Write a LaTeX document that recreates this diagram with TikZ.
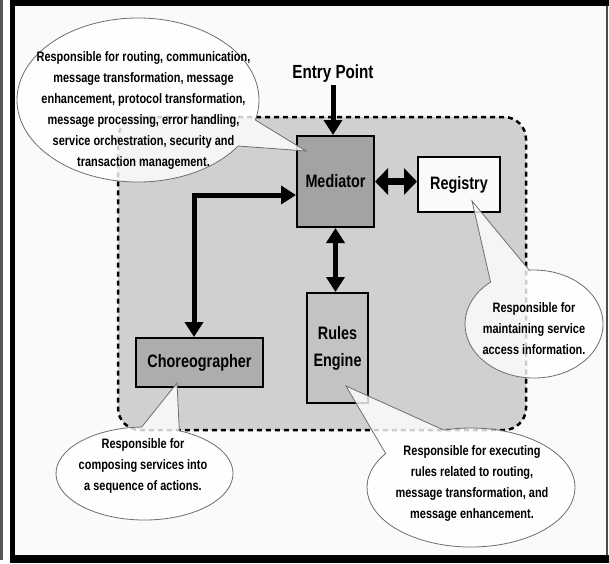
\documentclass[tikz,border=0pt]{standalone}
\usepackage{fontspec}
\newfontfamily\narrowsans{Liberation Sans}[FakeStretch=0.8]
\usetikzlibrary{shapes.callouts,arrows.meta,calc}

\definecolor{pagebg}{HTML}{FAFAFA}
\definecolor{regionfill}{HTML}{D0D0D0}
\definecolor{medfill}{HTML}{A3A3A3}
\definecolor{chorfill}{HTML}{ADADAD}
\definecolor{rulesfill}{HTML}{C3C3C3}
\definecolor{regfill}{HTML}{FAFAFA}
\definecolor{bubbleline}{HTML}{6E6E6E}

\begin{document}
\begin{tikzpicture}[x=1pt,y=-1pt,
  box/.style={draw=black, line width=2pt, inner sep=0pt,
    font=\narrowsans\bfseries\fontsize{18}{27}\selectfont, align=center},
  flow/.style={line width=5pt, -{Triangle[length=15pt,width=18pt]}},
  twoway/.style={line width=5pt,
    {Triangle[length=15pt,width=18pt]}-{Triangle[length=15pt,width=18pt]}},
  bubble/.style={ellipse callout, draw=bubbleline, line width=0.8pt,
    fill=white, fill opacity=0.8, draw opacity=1, inner sep=0pt},
  note/.style={font=\narrowsans\bfseries\fontsize{13.7}{21}\selectfont,
    align=center, inner sep=0pt},
]
\useasboundingbox (0,0) rectangle (609,563);

% page frame
\fill[pagebg] (14,6) rectangle (606,555);
\fill[black!65] (0,0) rectangle (3,560);
\fill[black] (10,0) rectangle (609,6);
\fill[black] (10,0) rectangle (14.5,563);
\fill[black] (10,555) rectangle (609,563);
\fill[black!70] (606,6) rectangle (608,555);

% service bus region
\node[draw=black, fill=regionfill, line width=2.5pt,
      dash pattern=on 5pt off 4pt, rounded corners=22pt,
      minimum width=408pt, minimum height=313pt, inner sep=0pt]
      (bus) at (322,273.5) {};

% components
\node[box, fill=medfill, minimum width=77pt, minimum height=91pt]
  (med) at (335.5,181.5) {Mediator};
\node[box, fill=regfill, minimum width=82pt, minimum height=55pt]
  (reg) at (459,184.5) {Registry};
\node[box, fill=rulesfill, minimum width=61pt, minimum height=110pt]
  (rules) at (337.5,348) {Rules\\Engine};
\node[box, fill=chorfill, minimum width=127pt, minimum height=49pt]
  (chor) at (199.5,362.5) {Choreographer};

\node[font=\narrowsans\bfseries\fontsize{19}{22}\selectfont, inner sep=0pt]
  (entry) at (333,74) {Entry Point};

% connectors
\draw[flow] ($(entry.south)+(0,2)$) -- (entry.south |- med.north);
\draw[twoway, line width=7pt,
  {Triangle[length=13pt,width=26pt]}-{Triangle[length=13pt,width=26pt]}]
  (med.east) -- (reg.west |- med.east);
\draw[twoway] (med.south) -- (med.south |- rules.north);
\coordinate (elbow) at (194,195);
\draw[twoway] (chor.north -| elbow) -- (elbow) -- (med.west |- elbow);

% callouts
\node[bubble, minimum width=242pt, minimum height=164pt,
  callout absolute pointer={($(med.north west)+(10,16)$)},
  callout pointer arc=20] (medbubble) at (138,100) {};
\node[note] (mednote) at (143.5,110)
  {Responsible for routing, communication,\\
   message transformation, message\\
   enhancement, protocol transformation,\\
   message processing, error handling,\\
   service orchestration, security and\\
   transaction management.};

\node[bubble, minimum width=138pt, minimum height=108pt,
  callout absolute pointer={($(reg.south west)+(55,-12)$)},
  callout pointer arc=35] (regbubble) at (534,324) {};
\node[note] (regnote) at (534,328.5)
  {Responsible for\\maintaining service\\access information.};

\node[bubble, minimum width=177pt, minimum height=93pt,
  callout absolute pointer={($(chor.south west)+(42,-5)$)},
  callout pointer arc=25] (chorbubble) at (144.5,473.5) {};
\node[note] (chornote) at (143,466)
  {Responsible for\\composing services into\\a sequence of actions.};

\node[bubble, minimum width=208pt, minimum height=119pt,
  callout absolute pointer={($(rules.south west)+(40,-18)$)},
  callout pointer arc=40] (rulesbubble) at (471,487.5) {};
\node[note] (rulesnote) at (472,483.5)
  {Responsible for executing\\rules related to routing,\\
   message transformation, and\\message enhancement.};
\end{tikzpicture}
\end{document}
